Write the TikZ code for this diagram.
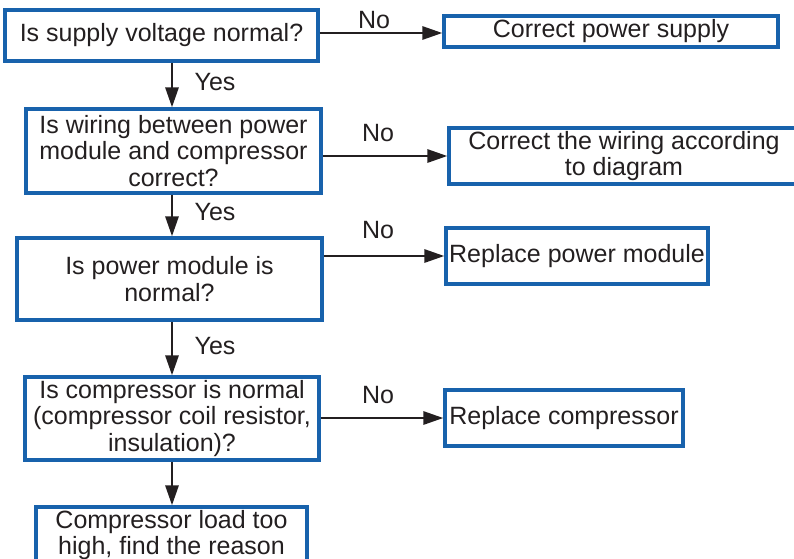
\documentclass[tikz,border=0pt]{standalone}
\usepackage{fontspec}
\setmainfont{Liberation Sans}
\usetikzlibrary{arrows.meta}
\definecolor{boxblue}{RGB}{24,98,172}
\definecolor{ink}{RGB}{35,31,32}
\tikzset{
  box/.style={draw=boxblue, line width=3.2pt, rectangle, inner sep=0pt,
    align=center, text=ink, font=\fontsize{25}{26.5}\selectfont},
  arr/.style={draw=ink, line width=2.8pt, -{Triangle[length=20pt,width=13pt]}},
  lbl/.style={text=ink, font=\fontsize{25}{26.5}\selectfont, inner sep=0pt},
}
\begin{document}
\begin{tikzpicture}[x=1pt,y=-1pt]
\useasboundingbox (0,0) rectangle (794,558);
\clip (0,0) rectangle (794,558);
\node[box, minimum width=313pt, minimum height=51pt] (b1) at (161.5,35.5) {Is supply voltage normal?};
\node[box, minimum width=334pt, minimum height=31pt] (c1) at (611,31.5) {Correct power supply};
\node[box, minimum width=295pt, minimum height=84pt] (b2) at (173.5,151) {Is wiring between power\\module and compressor\\correct?};
\node[box, minimum width=360pt, minimum height=56pt] (c2) at (629,156) {\hspace*{-10pt}Correct the wiring according\\\hspace*{-10pt}to diagram};
\node[box, minimum width=305pt, minimum height=82pt] (b3) at (169.5,279) {Is power module is\\normal?};
\node[box, minimum width=262pt, minimum height=56pt] (c3) at (577,256) {Replace power module};
\node[box, minimum width=294pt, minimum height=83pt] (b4) at (172,418.5) {Is compressor is normal\\(compressor coil resistor,\\insulation)?};
\node[box, minimum width=238pt, minimum height=56pt] (c4) at (564,418) {Replace compressor};
\node[box, minimum width=271pt, minimum height=56pt] (b5) at (171.5,535) {Compressor load too\\high, find the reason};

\draw[arr] (b1.east |- 0,33) -- (c1.west |- 0,33);
\draw[arr] (b2.east |- c2.west) -- (c2.west);
\draw[arr] (b3.east |- c3.west) -- (c3.west);
\draw[arr] (b4.east |- c4.west) -- (c4.west);

\draw[arr] (b1.south -| 172,0) -- (b2.north -| 172,0);
\draw[arr] (b2.south -| 172,0) -- (b3.north -| 172,0);
\draw[arr] (b3.south -| 172,0) -- (b4.north -| 172,0);
\draw[arr] (b4.south -| 172,0) -- (b5.north -| 172,0);

\node[lbl] (n1) at (374,20) {No};
\node[lbl] (n2) at (378,133) {No};
\node[lbl] (n3) at (378,230) {No};
\node[lbl] (n4) at (378,395) {No};
\node[lbl] (y1) at (215,82) {Yes};
\node[lbl] (y2) at (215,212) {Yes};
\node[lbl] (y3) at (215,346) {Yes};
\end{tikzpicture}
\end{document}
